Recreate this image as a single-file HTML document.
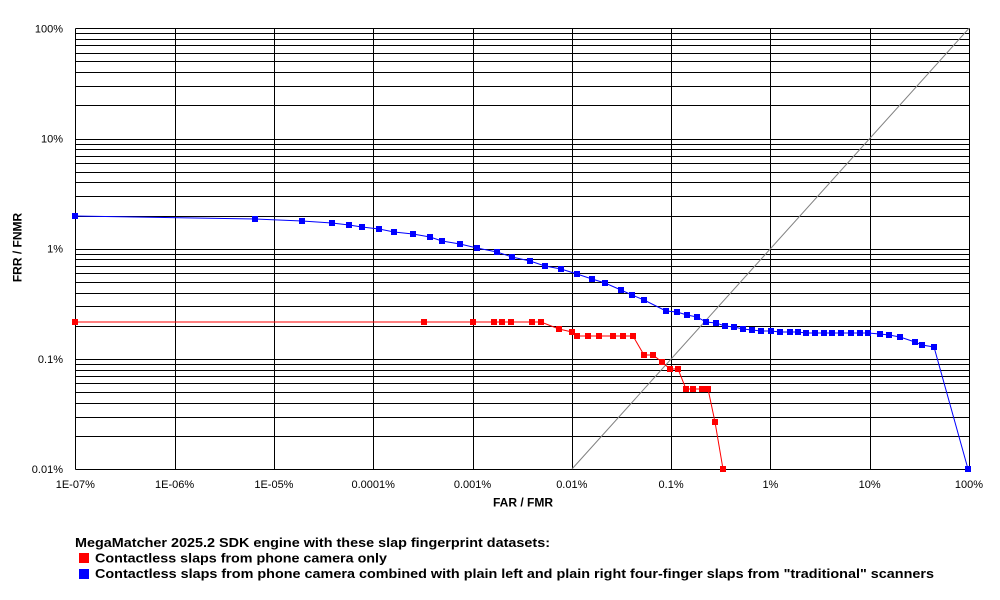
<!DOCTYPE html>
<html>
<head>
<meta charset="utf-8">
<style>
html,body{margin:0;padding:0;background:#fff;}
svg{display:block;}
text{font-family:"Liberation Sans",Arial,sans-serif;}
</style>
</head>
<body>
<svg width="1000" height="600" viewBox="0 0 1000 600" xmlns="http://www.w3.org/2000/svg">
<rect x="0" y="0" width="1000" height="600" fill="#fff"/>
<g id="grid" stroke="#000" stroke-width="1" shape-rendering="crispEdges">
</g>
<line x1="572" y1="469" x2="969" y2="28.3" stroke="#808080" stroke-width="1"/>
<polyline id="blue" fill="none" stroke="#0000ff" stroke-width="1" points="75,216 255,219 302,221 332,223 349,225 362,227 379,229 394,232 413,234 430,237 442,241 460,244 477,248 497,252 512,257 530,261 545,266 561,269 577,274 592,279 605,283 621,290 632,295 644,300 666,311 677,312 687,315 697,317 706,322 716,323 725,326 734,327 743,329 752,330 761,331 771,331 780,332 790,332 798,332 806,333 815,333 824,333 832,333 841,333 851,333 860,333 868,333 880,334 889,335 900,337 915,342 922,345 934,347 968,469"/>
<polyline id="red" fill="none" stroke="#ff0000" stroke-width="1" points="75,322 424,322 473,322 494,322 502,322 511,322 532,322 541,322 559,329 572,332 577,336 588,336 599,336 613,336 623,336 633,336 644,355 653,355 662,362 670,369 678,369 686,389 693,389 702,389 708,389 715,422 723,469"/>
<g id="bm" fill="#0000ff"></g>
<g id="rm" fill="#ff0000"></g>
<g id="ylab" font-size="11" text-anchor="end" fill="#000">
<text x="63" y="32.5">100%</text>
<text x="63" y="142.5">10%</text>
<text x="63" y="252.7">1%</text>
<text x="63" y="362.9">0.1%</text>
<text x="63" y="473">0.01%</text>
</g>
<g id="xlab" font-size="11" text-anchor="middle" fill="#000">
<text x="75.3" y="488">1E-07%</text>
<text x="174.6" y="488">1E-06%</text>
<text x="273.9" y="488">1E-05%</text>
<text x="373.2" y="488">0.0001%</text>
<text x="472.5" y="488">0.001%</text>
<text x="571.8" y="488">0.01%</text>
<text x="671.1" y="488">0.1%</text>
<text x="770.4" y="488">1%</text>
<text x="869.7" y="488">10%</text>
<text x="969" y="488">100%</text>
</g>
<text x="523" y="506.5" font-size="12" font-weight="bold" text-anchor="middle">FAR / FMR</text>
<text transform="translate(21.3,247.5) rotate(-90)" font-size="12" font-weight="bold" text-anchor="middle">FRR / FNMR</text>
<text x="75" y="547" font-size="13" font-weight="bold" textLength="475" lengthAdjust="spacingAndGlyphs">MegaMatcher 2025.2 SDK engine with these slap fingerprint datasets:</text>
<rect x="79" y="553" width="10" height="10" fill="#ff0000"/>
<text x="95" y="562.5" font-size="13" font-weight="bold" textLength="292" lengthAdjust="spacingAndGlyphs">Contactless slaps from phone camera only</text>
<rect x="79" y="569" width="10" height="10" fill="#0000ff"/>
<text x="95" y="578" font-size="13" font-weight="bold" textLength="839" lengthAdjust="spacingAndGlyphs">Contactless slaps from phone camera combined with plain left and plain right four-finger slaps from "traditional" scanners</text>
<script>
(function(){
var ns="http://www.w3.org/2000/svg";
var g=document.getElementById("grid");
var x0=75.3,dx=99.3,y0=28.3,dy=110.2,yb=469.1;
function L(a,b,c,d){var l=document.createElementNS(ns,"line");l.setAttribute("x1",a);l.setAttribute("y1",b);l.setAttribute("x2",c);l.setAttribute("y2",d);g.appendChild(l);}
for(var i=0;i<=9;i++){var x=Math.round(x0+i*dx)+0.5;L(x,y0,x,yb);}
for(var d=0;d<4;d++){var bottom=y0+(d+1)*dy;for(var k=1;k<=10;k++){var y=bottom-Math.log10(k)*dy;y=Math.round(y)+0.5;L(Math.round(x0)+0.5,y,Math.round(x0+9*dx)+0.5,y);}}
L(Math.round(x0)+0.5,Math.round(y0)+0.5,Math.round(x0)+0.5,Math.round(yb)+0.5);
function M(id,polyId){var gg=document.getElementById(id);var pts=document.getElementById(polyId).getAttribute("points").trim().split(/\s+/);pts.forEach(function(p){var c=p.split(",");var r=document.createElementNS(ns,"rect");r.setAttribute("x",+c[0]-3);r.setAttribute("y",+c[1]-3);r.setAttribute("width",6);r.setAttribute("height",6);gg.appendChild(r);});}
M("bm","blue");M("rm","red");
})();
</script>
</svg>
</body>
</html>
